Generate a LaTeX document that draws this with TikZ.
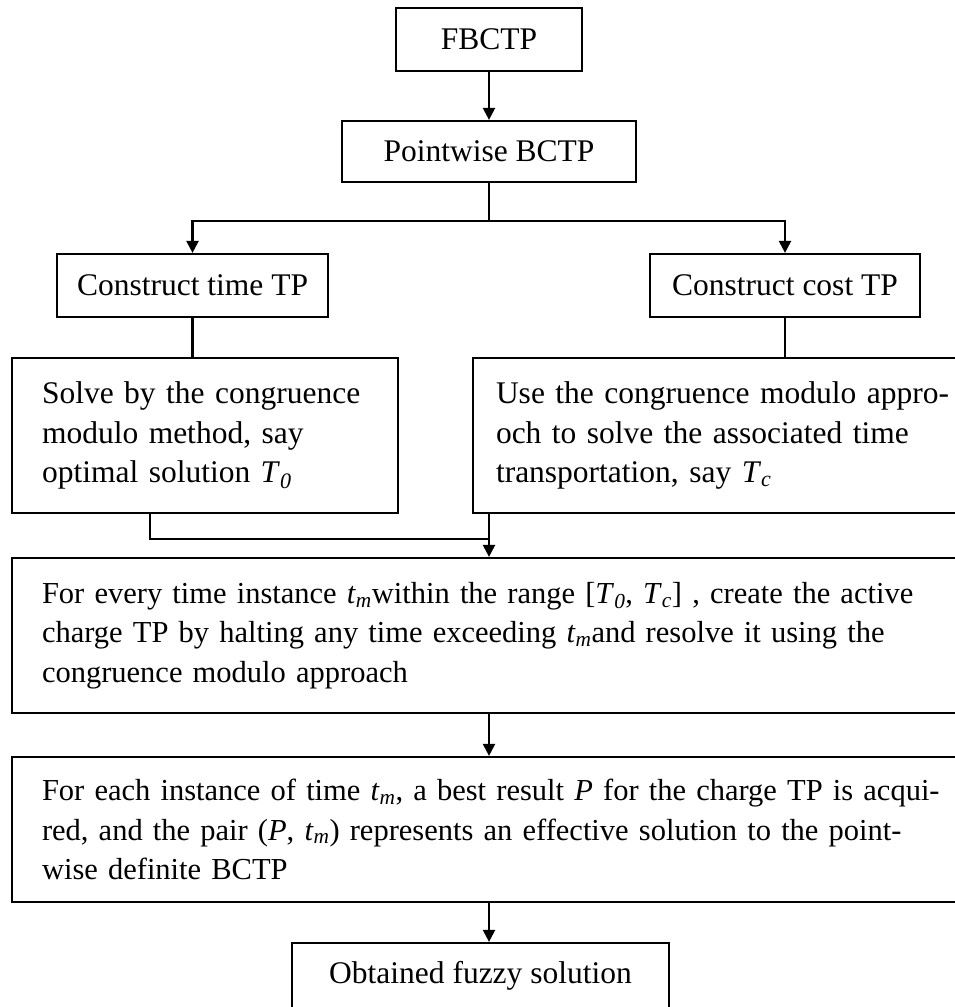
\documentclass[tikz,border=0pt]{standalone}
\usepackage{fontspec}
\setmainfont{Liberation Serif}
\usetikzlibrary{arrows.meta}
\newcommand{\isub}[2]{\textit{#1}\textsubscript{\textit{#2}}}

\begin{document}
\begin{tikzpicture}[x=1pt,y=-1pt,line width=2.2pt]
 	\tikzstyle{every node}+=[font=\fontsize{31.5}{39.5}\selectfont]
 	\tikzstyle{box}=[draw,black,inner sep=0pt]
 	\tikzstyle{para}=[box,align=left,inner xsep=30pt]
 	\tikzstyle{widepara}=[para,text width=990pt,font=\fontsize{30.5}{39.5}\selectfont]
 	\tikzstyle{arr}=[-{Triangle[length=12pt,width=12pt]}]
 	\useasboundingbox (0,0) rectangle (955,1007);
 	\clip (0,0) rectangle (955,1007);
 	\node [box,minimum width=186pt,minimum height=63pt] (fbctp) at (489,39.5) {FBCTP};
 	\node [box,minimum width=294pt,minimum height=61pt] (pbctp) at (489,151.5) {Pointwise BCTP};
 	\node [box,minimum width=271pt,minimum height=63pt] (ctime) at (192.5,285.5) {Construct time TP};
 	\node [box,minimum width=270pt,minimum height=63pt] (ccost) at (785,285.5) {Construct cost TP};
 	\node [para,text width=326pt,minimum height=155pt] (solve) at (205,435.5)
 		{Solve by the congruence\\modulo method, say\\optimal solution \isub{T}{0}};
 	\node [para,inner xsep=23pt,text width=520pt,minimum height=155pt] (use) at (756,435.5)
 		{Use the congruence modulo appro-\\och to solve the associated time\\transportation, say \isub{T}{c}};
 	\node [widepara,minimum height=155pt] (every) at (537,635.5)
 		{For every time instance \isub{t}{m}within the range [\isub{T}{0}, \isub{T}{c}] , create the active\\charge TP by halting any time exceeding \isub{t}{m}and resolve it using the\\congruence modulo approach};
 	\node [widepara,minimum height=145pt] (each) at (537,829.5)
 		{For each instance of time \isub{t}{m}, a best result \textit{P} for the charge TP is acqui-\\red, and the pair (\textit{P}, \isub{t}{m}) represents an effective solution to the point-\\wise definite BCTP};
 	\node [box,minimum width=377pt,minimum height=66pt] (obtained) at (480.5,976) {Obtained fuzzy solution};
 	\coordinate (split) at (489,221);
 	\coordinate (join) at (489,539);
 	\draw [arr] (fbctp.south) -- (pbctp.north);
 	\draw (pbctp.south) -- (split);
 	\draw [arr] (split) -| (ctime.north);
 	\draw [arr] (split) -| (ccost.north);
 	\draw (ctime.south) -- (ctime.south |- solve.north);
 	\draw (ccost.south) -- (ccost.south |- use.north);
 	\draw ([xshift=-55pt]solve.south) |- (join);
 	\draw [arr] (join |- use.south) -- (join |- every.north);
 	\draw [arr] (join |- every.south) -- (join |- each.north);
 	\draw [arr] (join |- each.south) -- (join |- obtained.north);
\end{tikzpicture}
\end{document}
